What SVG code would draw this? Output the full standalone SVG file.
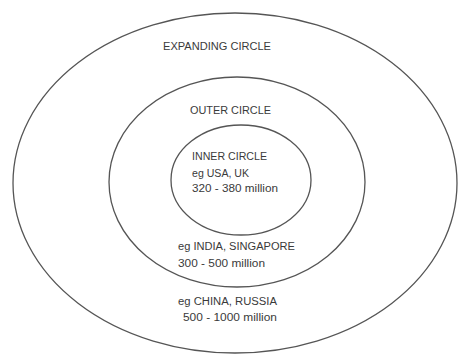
<svg xmlns="http://www.w3.org/2000/svg" width="459" height="362" viewBox="0 0 459 362">
<style>
.ring{fill:none;stroke:#555;stroke-width:1.3}
text{font-family:"Liberation Sans",Arial,sans-serif;font-size:10px;fill:#3a3a3a}
</style>
<rect width="459" height="362" fill="#fff"/>
<g id="expanding">
<ellipse class="ring" cx="235" cy="183" rx="222" ry="170"/>
<text x="163" y="50" textLength="108" lengthAdjust="spacingAndGlyphs">EXPANDING CIRCLE</text>
<text x="178" y="305" textLength="99" lengthAdjust="spacingAndGlyphs">eg CHINA, RUSSIA</text>
<text x="183" y="321" textLength="94" lengthAdjust="spacingAndGlyphs">500 - 1000 million</text>
</g>
<g id="outer">
<ellipse class="ring" cx="237" cy="182" rx="128" ry="105"/>
<text x="190" y="114" textLength="81" lengthAdjust="spacingAndGlyphs">OUTER CIRCLE</text>
<text x="178" y="250" textLength="117" lengthAdjust="spacingAndGlyphs">eg INDIA, SINGAPORE</text>
<text x="178" y="267" textLength="87" lengthAdjust="spacingAndGlyphs">300 - 500 million</text>
</g>
<g id="inner">
<ellipse class="ring" cx="241" cy="180" rx="70" ry="55"/>
<text x="192" y="160" textLength="75" lengthAdjust="spacingAndGlyphs">INNER CIRCLE</text>
<text x="192" y="177" textLength="57" lengthAdjust="spacingAndGlyphs">eg USA, UK</text>
<text x="192" y="192" textLength="86" lengthAdjust="spacingAndGlyphs">320 - 380 million</text>
</g>
<g id="connectors"/>
</svg>
